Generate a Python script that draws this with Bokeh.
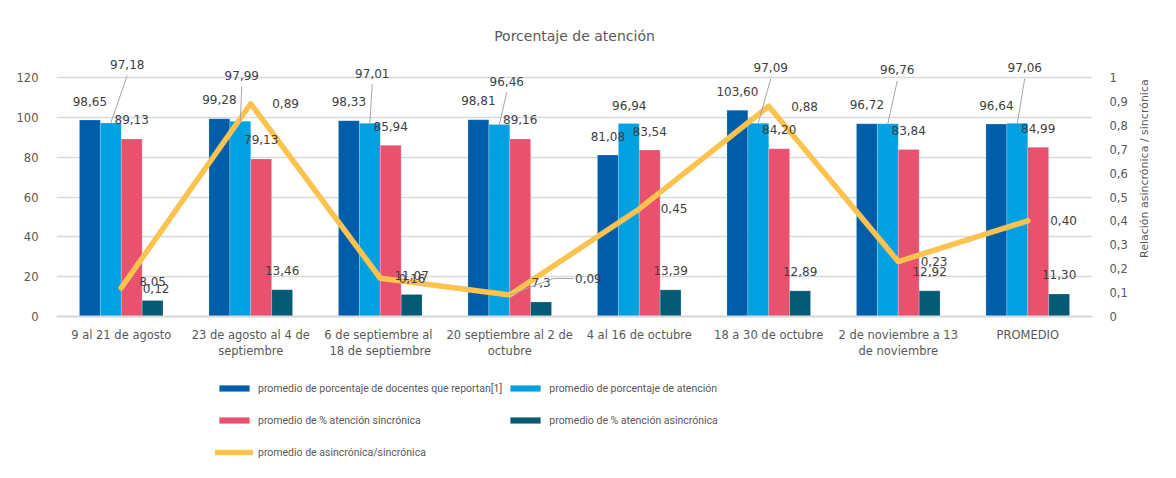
import math
from bokeh.plotting import figure
from bokeh.models import (Range1d, LinearAxis, FixedTicker, CustomJSTickFormatter,
                          Legend, LegendItem, ColumnDataSource)
from bokeh.core.properties import value
from bokeh.embed import file_html
from bokeh.resources import INLINE

# ---------------- data ----------------
categories = ["9 al 21 de agosto", "23 de agosto al 4 de\nseptiembre",
              "6 de septiembre  al\n18 de septiembre", "20 septiembre al 2 de\noctubre",
              "4 al 16 de octubre", "18 a 30 de octubre",
              "2 de noviembre a 13\nde noviembre", "PROMEDIO"]
docentes = [98.65, 99.28, 98.33, 98.81, 81.08, 103.60, 96.72, 96.64]
atencion = [97.18, 97.99, 97.01, 96.46, 96.94, 97.09, 96.76, 97.06]
sincronica = [89.13, 79.13, 85.94, 89.16, 83.54, 84.20, 83.84, 84.99]
asincronica = [8.05, 13.46, 11.07, 7.3, 13.39, 12.89, 12.92, 11.30]
asincronica_dec = [2, 2, 2, 1, 2, 2, 2, 2]
ratio = [0.12, 0.89, 0.16, 0.09, 0.45, 0.88, 0.23, 0.40]

series_names = ["promedio de porcentaje de docentes que reportan[1]",
                "promedio de porcentaje de atención",
                "promedio de % atención sincrónica",
                "promedio de % atención asincrónica",
                "promedio de asincrónica/sincrónica"]

left_ticks = [0, 20, 40, 60, 80, 100, 120]
right_ticks = [0, 0.1, 0.2, 0.3, 0.4, 0.5, 0.6, 0.7, 0.8, 0.9, 1.0]

# ---------------- styling / placement ----------------
COLORS = ["#005DA9", "#00A0E1", "#E8526F", "#045B73"]
LINE_COLOR = "#FEC24E"
TXT = "#404040"
AX = "#595959"
GRID = "#D9D9D9"
FONT = "DejaVu Sans"
LEG_FONT = "Roboto"

W, H = 1160, 462
FRAME_TOP, ZERO_PX, FRAME_LEFT, FRAME_RIGHT = 53, 316, 56, 1097
LEFT_TOP = 120                      # left-axis value matching 1.0 on the right axis
PX_Y = 239.0 / 120.0                # pixels per left-axis unit
PX_X = (FRAME_RIGHT - FRAME_LEFT) / 8.0
Y_MAX = (ZERO_PX - FRAME_TOP) / PX_Y    # room above the top gridline for labels
Y_MIN = -(H - ZERO_PX) / PX_Y           # room below zero for axis labels + legend
BAR_W = 0.1614
BAR_OFF = [-1.5 * BAR_W, -0.5 * BAR_W, 0.5 * BAR_W, 1.5 * BAR_W]

# label offsets in pixels (dx right, dy down) relative to bar top / point
att_dx = [16.5, 1.5, 2.5, 7.5, 0.5, 12.5, 9.5, 7.5]
att_dy = [-58.4, -46, -50, -43, -18, -55.6, -54, -55.7]
ratio_dx = [35, 35, 32, 79, 35, 36, 36, 36]
ratio_dy = [1, 0, 0, -16.5, 0, 0, 0, 0]
STD_DY = -19


def fmt(v, d=2):
    return f"{v:.{d}f}".replace(".", ",")


p = figure(width=W, height=H, output_backend="svg", toolbar_location=None,
           x_range=Range1d(0, 8), y_range=Range1d(Y_MIN, Y_MAX),
           min_border_left=FRAME_LEFT, min_border_right=W - FRAME_RIGHT,
           min_border_top=FRAME_TOP, min_border_bottom=0,
           background_fill_color="white", border_fill_color="white")
p.outline_line_color = None
p.extra_y_ranges = {"ratio": Range1d(Y_MIN / LEFT_TOP, Y_MAX / LEFT_TOP)}

p.title.text = "Porcentaje de atención"
p.title.align = "center"
p.title.text_font = FONT
p.title.text_font_size = "14px"
p.title.text_font_style = "normal"
p.title.text_color = AX
p.title.standoff = 20

xs = [i + 0.5 for i in range(len(categories))]

# bars
bar_renderers = []
for k, vals in enumerate([docentes, atencion, sincronica, asincronica]):
    src = ColumnDataSource(dict(x=[x + BAR_OFF[k] for x in xs], top=vals))
    r = p.vbar(x="x", top="top", bottom=0, width=BAR_W, source=src, fill_color=COLORS[k],
               line_color="white", line_width=0.6, line_alpha=0.35)
    bar_renderers.append(r)

# ratio line
line_r = p.line(xs, ratio, y_range_name="ratio", line_color=LINE_COLOR, line_width=5.5,
                line_join="round", line_cap="round")

# ---------------- data labels ----------------
lab_x, lab_y, lab_t = [], [], []
lead_xs, lead_ys = [], []
for i, x in enumerate(xs):
    lab_x.append(x + BAR_OFF[0]); lab_y.append(docentes[i] - STD_DY / PX_Y); lab_t.append(fmt(docentes[i]))
    bx = x + BAR_OFF[1]
    lx = bx + att_dx[i] / PX_X
    ly = atencion[i] - att_dy[i] / PX_Y
    lab_x.append(lx); lab_y.append(ly); lab_t.append(fmt(atencion[i]))
    if att_dy[i] < -25:
        lead_xs.append([bx, lx])
        lead_ys.append([atencion[i], ly - 11 / PX_Y])
    lab_x.append(x + BAR_OFF[2]); lab_y.append(sincronica[i] - STD_DY / PX_Y); lab_t.append(fmt(sincronica[i]))
    lab_x.append(x + BAR_OFF[3]); lab_y.append(asincronica[i] - STD_DY / PX_Y)
    lab_t.append(fmt(asincronica[i], asincronica_dec[i]))

p.multi_line(lead_xs, lead_ys, line_color="#A6A6A6", line_width=1)
p.text(x=lab_x, y=lab_y, text=lab_t, text_align="center", text_baseline="middle",
       text_font=value(FONT), text_font_size="12px", text_color=TXT)

r_x, r_y, r_t = [], [], []
r_lead_xs, r_lead_ys = [], []
for i, x in enumerate(xs):
    yy = ratio[i] * LEFT_TOP
    lx = x + ratio_dx[i] / PX_X
    ly = yy - ratio_dy[i] / PX_Y
    r_x.append(lx); r_y.append(ly / LEFT_TOP); r_t.append(fmt(ratio[i]))
    if abs(ratio_dy[i]) > 5:
        r_lead_xs.append([x, x + (ratio_dx[i] - 35) / PX_X, x + (ratio_dx[i] - 15) / PX_X])
        r_lead_ys.append([ratio[i], ly / LEFT_TOP, ly / LEFT_TOP])

p.multi_line(r_lead_xs, r_lead_ys, y_range_name="ratio", line_color="#A6A6A6", line_width=1)
p.text(x=r_x, y=r_y, text=r_t, y_range_name="ratio", text_align="center", text_baseline="middle",
       text_font=value(FONT), text_font_size="12px", text_color=TXT)

# ---------------- axes ----------------
p.xaxis.fixed_location = 0
p.xaxis.ticker = FixedTicker(ticks=xs)
p.xaxis.major_label_overrides = {x: c for x, c in zip(xs, categories)}
p.xaxis.axis_line_color = GRID
p.xaxis.axis_line_width = 2
p.xaxis.major_tick_line_color = None
p.xaxis.minor_tick_line_color = None
p.xaxis.major_label_text_font = FONT
p.xaxis.major_label_text_font_size = "11.5px"
p.xaxis.major_label_text_color = AX
p.xaxis.major_label_standoff = 5

p.yaxis.ticker = FixedTicker(ticks=left_ticks)
p.yaxis.axis_line_color = None
p.yaxis.major_tick_line_color = None
p.yaxis.minor_tick_line_color = None
p.yaxis.major_label_text_font = FONT
p.yaxis.major_label_text_font_size = "11.5px"
p.yaxis.major_label_text_color = AX
p.yaxis.major_label_standoff = 12

ry = LinearAxis(y_range_name="ratio", ticker=FixedTicker(ticks=right_ticks),
                formatter=CustomJSTickFormatter(code="return (Math.round(tick*10)/10).toString().replace('.', ',');"),
                axis_label="Relación asincrónica / sincrónica")
ry.axis_line_color = None
ry.major_tick_line_color = None
ry.minor_tick_line_color = None
ry.major_label_text_font = FONT
ry.major_label_text_font_size = "11.5px"
ry.major_label_text_color = AX
ry.major_label_standoff = 11
ry.axis_label_text_font = FONT
ry.axis_label_text_font_size = "11px"
ry.axis_label_text_font_style = "normal"
ry.axis_label_text_color = AX
ry.axis_label_standoff = 14
ry.axis_label_orientation = math.pi / 2
p.add_layout(ry, "right")

p.xgrid.grid_line_color = None
p.ygrid.ticker = FixedTicker(ticks=left_ticks)
p.ygrid.grid_line_color = GRID
p.ygrid.grid_line_width = 1.5

# ---------------- legend ----------------
items = [LegendItem(label=series_names[k], renderers=[bar_renderers[k]]) for k in range(4)]
items.append(LegendItem(label=series_names[4], renderers=[line_r]))
legend = Legend(items=items, location=(215 - FRAME_LEFT, -4), orientation="horizontal", ncols=2,
                padding=0, margin=0, spacing=4, glyph_width=38, glyph_height=8,
                label_height=28, label_standoff=5,
                label_text_font=LEG_FONT, label_text_font_size="10.5px", label_text_color=AX,
                background_fill_alpha=0, border_line_color=None)
p.add_layout(legend, "center")

open("out.html", "w").write(file_html(p, INLINE))
